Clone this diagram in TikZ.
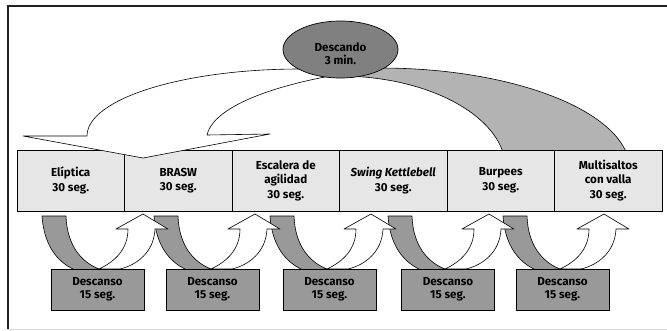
\documentclass[tikz,border=0pt]{standalone}
\usepackage{fontspec}
\setmainfont{Fira Sans}
\usetikzlibrary{shapes.geometric}
\definecolor{boxfill}{HTML}{E6E6E6}
\definecolor{restfill}{HTML}{999999}
\definecolor{ellfill}{HTML}{808080}
\definecolor{bandfill}{HTML}{B3B3B3}
\definecolor{smallband}{HTML}{999999}
\definecolor{framedark}{HTML}{222222}
\definecolor{framelight}{HTML}{D9D9D9}
\begin{document}
\begin{tikzpicture}[x=1pt,y=-1pt,
  task/.style={draw=black, line width=0.8pt, fill=boxfill, minimum width=107.5pt, minimum height=61pt, inner sep=0pt, align=center, font=\fontsize{11.6}{14.5}\selectfont\bfseries},
  rest/.style={draw=black, line width=0.7pt, fill=restfill, minimum width=93pt, minimum height=41pt, inner sep=0pt, align=center, font=\fontsize{11.6}{13.5}\selectfont\bfseries},
  shapeline/.style={draw=black, line width=0.6pt, line join=round},
  lbl/.style={align=center, font=\fontsize{11.6}{13}\selectfont\bfseries, inner sep=0pt}
]
\useasboundingbox (0,0) rectangle (667,330);
\fill[white] (0,0) rectangle (667,330);
% frame
\draw[framelight, line width=1pt] (8,329) -- (667,329);
\draw[framedark, line width=2.5pt] (8,329) -- (8,6) -- (667,6);

% big gray band (behind task boxes)
\filldraw[shapeline, fill=bandfill] (340,68) -- (380,68) .. controls (518,68) and (630,113.7) .. (630,170) -- (506,170) .. controls (506,118) and (431,76) .. (339,76) -- cycle;

% task boxes
\node[task] (t1) at (70.75,180.5) {Elíptica\\30 seg.};
\node[task] (t2) at (178.25,180.5) {BRASW\\30 seg.};
\node[task] (t3) at (285.75,180.5) {Escalera de\\agilidad\\30 seg.};
\node[task] (t4) at (393.25,180.5) {\itshape Swing Kettlebell\\30 seg.};
\node[task] (t5) at (500.75,180.5) {Burpees\\30 seg.};
\node[task] (t6) at (608.25,180.5) {Multisaltos\\con valla\\30 seg.};

% big white arrow
\filldraw[shapeline, fill=white] (330,69) -- (300,69) .. controls (182.4,69) and (87,99) .. (87,136) -- (23,136) -- (143,158) -- (270,134) -- (207,135) .. controls (212,112) and (255,90) .. (330,76) -- cycle;

% ellipse
\node[ellipse, draw=black, line width=0.7pt, fill=ellfill, minimum width=115pt, minimum height=57pt, inner sep=0pt] (long) at (340.5,49.5) {};
\node[lbl] (longtext) at (340.5,53.5) {Descando\\3 min.};

% small gray bands
\foreach \m in {99,211,327,445,560} {
  \filldraw[shapeline, fill=smallband] (\m-57,216) -- (\m-33,216) .. controls (\m-32,245) and (\m-18,262) .. (\m,269) -- (\m-24,270) .. controls (\m-42,262) and (\m-55,245) .. (\m-57,216) -- cycle;
}
% small white arrows
\foreach \m in {99,211,327,445,560} {
  \filldraw[shapeline, fill=white] (\m,269) .. controls (\m+15,262) and (\m+29,250) .. (\m+29,229) -- (\m+17,229) -- (\m+44,214) -- (\m+69,229) -- (\m+56,229) .. controls (\m+55,252) and (\m+38,265) .. (\m+21,269) -- cycle;
}

% rest boxes
\node[rest] (r1) at (97.5,289.5) {Descanso\\15 seg.};
\node[rest] (r2) at (212.5,289.5) {Descanso\\15 seg.};
\node[rest] (r3) at (329.5,289.5) {Descanso\\15 seg.};
\node[rest] (r4) at (448,289.5) {Descanso\\15 seg.};
\node[rest] (r5) at (562.5,289.5) {Descanso\\15 seg.};
\end{tikzpicture}
\end{document}
